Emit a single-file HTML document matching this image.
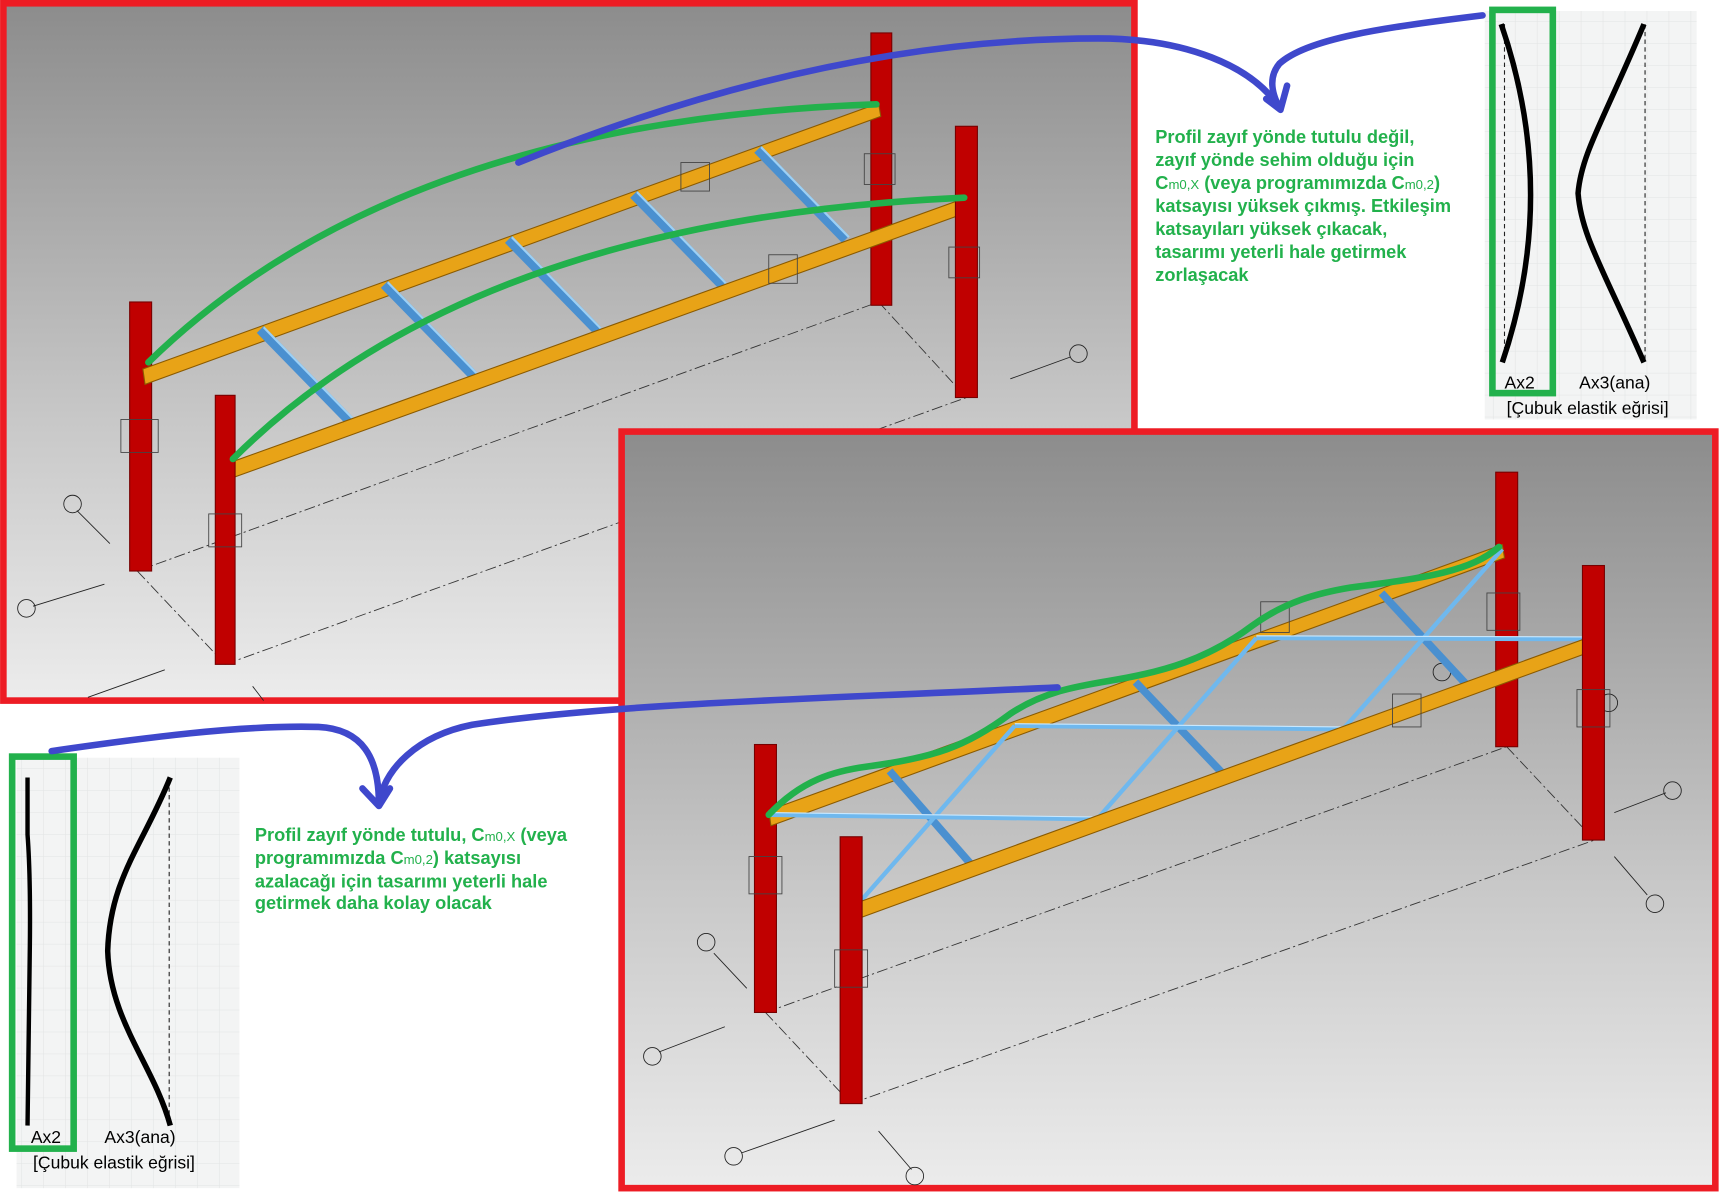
<!DOCTYPE html>
<html><head><meta charset="utf-8"><style>
html,body{margin:0;padding:0;background:#fff;}
svg{display:block;}
.t{font-family:"Liberation Sans",Arial,sans-serif;font-weight:bold;font-size:16.6px;fill:#22b14c;}
.l{font-family:"Liberation Sans",Arial,sans-serif;font-size:16px;fill:#000;}
</style></head><body>
<svg width="1722" height="1192" viewBox="0 0 1568 1085.5" xmlns="http://www.w3.org/2000/svg">
<defs>
<linearGradient id="g1" x1="0" y1="0" x2="0" y2="1">
<stop offset="0" stop-color="#8c8c8c"/><stop offset="0.6" stop-color="#c8c8c8"/><stop offset="1" stop-color="#ececec"/></linearGradient>
<pattern id="grid" width="20" height="20" patternUnits="userSpaceOnUse"><rect width="20" height="20" fill="#f3f4f4"/><path d="M20 0V20H0" fill="none" stroke="#e2e4e4" stroke-width="1"/></pattern>
</defs>
<rect width="1568" height="1086" fill="#fff"/>

<!-- TOP BOX -->
<rect x="3" y="3" width="1030" height="635" fill="url(#g1)" stroke="#ed1c24" stroke-width="6"/>
<g stroke="#333" stroke-width="0.8" fill="none" stroke-dasharray="10 3 2 3">
<line x1="125" y1="520" x2="800" y2="275"/><line x1="205" y1="605" x2="880" y2="362"/>
<line x1="125" y1="520" x2="205" y2="605"/><line x1="800" y1="275" x2="880" y2="362"/>
</g>
<g stroke="#222" stroke-width="0.8" fill="none">
<line x1="100" y1="495" x2="70" y2="465"/><circle cx="66" cy="459" r="8"/>
<line x1="95" y1="532" x2="30" y2="552"/><circle cx="24" cy="554" r="8"/>
<line x1="920" y1="345" x2="975" y2="325"/><circle cx="982" cy="322" r="8"/>
<line x1="150" y1="610" x2="80" y2="635"/><line x1="230" y1="625" x2="240" y2="638"/>
</g>
<rect x="118" y="275" width="20" height="245" fill="#c00000" stroke="#700" stroke-width="1"/>
<rect x="793" y="30" width="19" height="248" fill="#c00000" stroke="#700" stroke-width="1"/>
<polygon points="130,336 800,94 802,106 132,350" fill="#e8a317" stroke="#8a5a00" stroke-width="1"/>
<g stroke="#4a90d0" stroke-width="9" stroke-linecap="butt">
<line x1="237" y1="300" x2="318" y2="383"/><line x1="350" y1="259" x2="431" y2="342"/>
<line x1="463" y1="218" x2="544" y2="301"/><line x1="577" y1="177" x2="658" y2="260"/>
<line x1="690" y1="136" x2="770" y2="218"/>
</g>
<g stroke="#9cd0f5" stroke-width="2">
<line x1="240" y1="298" x2="321" y2="381"/><line x1="353" y1="257" x2="434" y2="340"/>
<line x1="466" y1="216" x2="547" y2="299"/><line x1="580" y1="175" x2="661" y2="258"/>
<line x1="693" y1="134" x2="773" y2="216"/>
</g>
<polygon points="210,421 880,180 882,193 212,435" fill="#e8a317" stroke="#8a5a00" stroke-width="1"/>
<rect x="196" y="360" width="18" height="245" fill="#c00000" stroke="#700" stroke-width="1"/>
<rect x="870" y="115" width="20" height="247" fill="#c00000" stroke="#700" stroke-width="1"/>
<g fill="none" stroke="#444" stroke-width="0.8">
<rect x="110" y="382" width="34" height="30"/><rect x="190" y="468" width="30" height="30"/>
<rect x="620" y="148" width="26" height="26"/><rect x="700" y="232" width="26" height="26"/>
<rect x="787" y="140" width="28" height="28"/><rect x="864" y="225" width="28" height="28"/>
</g>
<g fill="none" stroke="#22b14c" stroke-width="6" stroke-linecap="round">
<path d="M135,330 Q 360,110 798,95"/><path d="M212,418 Q 430,200 878,180"/>
</g>

<!-- top right paper -->
<rect x="1352" y="10" width="193" height="372" fill="url(#grid)"/>
<g stroke="#222" stroke-width="1" stroke-dasharray="4 3" fill="none">
<line x1="1370" y1="22" x2="1370" y2="330"/><line x1="1498" y1="22" x2="1498" y2="330"/>
</g>
<path d="M1367,22 Q1420,176 1368,330" fill="none" stroke="#000" stroke-width="5"/>
<path d="M1497,22 C1460,110 1440,140 1437,176 C1440,215 1460,245 1497,330" fill="none" stroke="#000" stroke-width="5"/>
<rect x="1359" y="9" width="55" height="349" fill="none" stroke="#22b14c" stroke-width="6"/>
<text class="l" x="1370" y="354">Ax2</text>
<text class="l" x="1438" y="354">Ax3(ana)</text>
<text class="l" x="1372" y="377">[Çubuk elastik eğrisi]</text>

<text class="t" x="1052" y="130">Profil zayıf yönde tutulu değil,</text>
<text class="t" x="1052" y="151">zayıf yönde sehim olduğu için</text>
<text class="t" x="1052" y="172">C<tspan font-size="12" font-weight="normal">m0,X</tspan> (veya programımızda C<tspan font-size="12" font-weight="normal">m0,2</tspan>)</text>
<text class="t" x="1052" y="193">katsayısı yüksek çıkmış. Etkileşim</text>
<text class="t" x="1052" y="214">katsayıları yüksek çıkacak,</text>
<text class="t" x="1052" y="235">tasarımı yeterli hale getirmek</text>
<text class="t" x="1052" y="256">zorlaşacak</text>

<!-- BOTTOM BOX -->
<rect x="566" y="393" width="996" height="689" fill="url(#g1)" stroke="#ed1c24" stroke-width="6"/>
<g stroke="#333" stroke-width="0.8" fill="none" stroke-dasharray="10 3 2 3">
<line x1="697" y1="922" x2="1372" y2="680"/><line x1="775" y1="1005" x2="1452" y2="765"/>
<line x1="697" y1="922" x2="775" y2="1005"/><line x1="1372" y1="680" x2="1452" y2="765"/>
</g>
<g stroke="#222" stroke-width="0.8" fill="none">
<line x1="680" y1="900" x2="650" y2="868"/><circle cx="643" cy="858" r="8"/>
<line x1="660" y1="935" x2="600" y2="958"/><circle cx="594" cy="962" r="8"/>
<line x1="1470" y1="740" x2="1517" y2="722"/><circle cx="1523" cy="720" r="8"/>
<line x1="1470" y1="780" x2="1500" y2="815"/><circle cx="1507" cy="823" r="8"/>
<line x1="760" y1="1020" x2="675" y2="1050"/><circle cx="668" cy="1053" r="8"/>
<line x1="800" y1="1030" x2="830" y2="1065"/><circle cx="833" cy="1071" r="8"/>
<circle cx="1465" cy="640" r="8"/><circle cx="1313" cy="612" r="8"/>
</g>
<rect x="687" y="678" width="20" height="244" fill="#c00000" stroke="#700" stroke-width="1"/>
<rect x="1362" y="430" width="20" height="250" fill="#c00000" stroke="#700" stroke-width="1"/>
<polygon points="700,738 1368,496 1370,508 702,752" fill="#e8a317" stroke="#8a5a00" stroke-width="1"/>
<g stroke="#4a90d0" stroke-width="7">
<line x1="810" y1="702" x2="885" y2="788"/><line x1="1034" y1="621" x2="1113" y2="704"/><line x1="1258" y1="540" x2="1335" y2="623"/>
</g>
<g stroke="#6fb8ee" stroke-width="4">
<line x1="778" y1="827" x2="924" y2="661"/><line x1="999" y1="746" x2="1144" y2="581"/><line x1="1223" y1="664" x2="1368" y2="500"/>
<line x1="700" y1="742" x2="999" y2="746"/><line x1="924" y1="661" x2="1223" y2="664"/><line x1="1144" y1="581" x2="1448" y2="582"/>
</g>
<g stroke="#c8e8ff" stroke-width="1">
<line x1="700" y1="740" x2="999" y2="744"/><line x1="924" y1="659" x2="1223" y2="662"/><line x1="1144" y1="579" x2="1448" y2="580"/>
</g>
<polygon points="778,823 1448,580 1450,593 780,837" fill="#e8a317" stroke="#8a5a00" stroke-width="1"/>
<rect x="765" y="762" width="20" height="243" fill="#c00000" stroke="#700" stroke-width="1"/>
<rect x="1441" y="515" width="20" height="250" fill="#c00000" stroke="#700" stroke-width="1"/>
<g fill="none" stroke="#444" stroke-width="0.8">
<rect x="682" y="780" width="30" height="34"/><rect x="760" y="865" width="30" height="34"/>
<rect x="1354" y="540" width="30" height="34"/><rect x="1436" y="628" width="30" height="34"/>
<rect x="1268" y="632" width="26" height="30"/><rect x="1148" y="548" width="26" height="28"/>
</g>
<path d="M700,742 C730,710 760,702 790,698 C850,690 880,680 920,650 C950,630 980,625 1010,620 C1060,612 1100,600 1140,570 C1170,548 1200,540 1230,535 C1300,526 1340,520 1365,498" fill="none" stroke="#22b14c" stroke-width="6" stroke-linecap="round"/>

<!-- bottom left paper -->
<rect x="15" y="690" width="203" height="392" fill="url(#grid)"/>
<line x1="154" y1="710" x2="154" y2="1025" stroke="#222" stroke-width="1" stroke-dasharray="4 3"/>
<path d="M25,708 L25,760 Q28,800 27,870 Q26,960 25,1025" fill="none" stroke="#000" stroke-width="4"/>
<path d="M155,708 C130,770 100,800 98,866 C100,930 140,970 155,1025" fill="none" stroke="#000" stroke-width="5"/>
<rect x="11" y="689" width="56" height="357" fill="none" stroke="#22b14c" stroke-width="6"/>
<text class="l" x="28" y="1041">Ax2</text>
<text class="l" x="95" y="1041">Ax3(ana)</text>
<text class="l" x="30" y="1064">[Çubuk elastik eğrisi]</text>

<text class="t" x="232" y="766">Profil zayıf yönde tutulu, C<tspan font-size="12" font-weight="normal">m0,X</tspan> (veya</text>
<text class="t" x="232" y="787">programımızda C<tspan font-size="12" font-weight="normal">m0,2</tspan>) katsayısı</text>
<text class="t" x="232" y="808">azalacağı için tasarımı yeterli hale</text>
<text class="t" x="232" y="828">getirmek daha kolay olacak</text>

<!-- BLUE ARROWS -->
<g fill="none" stroke="#3f48cc" stroke-width="6" stroke-linecap="round" stroke-linejoin="round">
<path d="M472,148 C640,80 820,35 1000,35 C1080,35 1140,60 1165,98"/>
<path d="M1350,14 C1260,25 1190,35 1165,58 C1155,70 1158,85 1165,98"/>
<path d="M1153,90 L1166,100 L1172,78"/>
<path d="M47,684 C130,672 220,660 290,662 C330,664 345,690 345,732"/>
<path d="M963,626 C760,636 560,640 430,660 C380,670 350,700 345,732"/>
<path d="M330,718 L345,734 L355,718"/>
</g>
</svg>
</body></html>
